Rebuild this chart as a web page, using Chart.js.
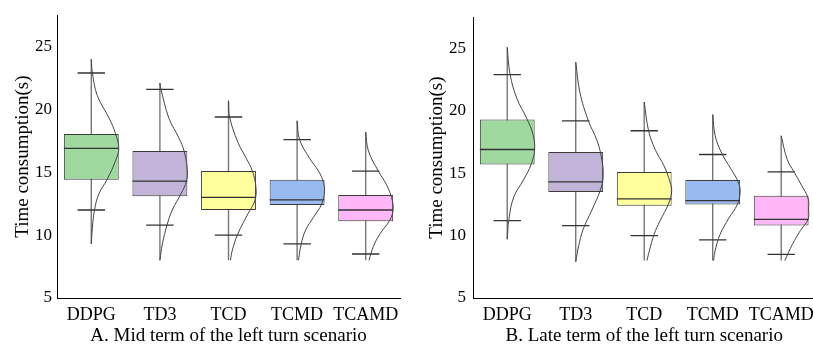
<!DOCTYPE html>
<html>
<head>
<meta charset="utf-8">
<script src="https://cdn.jsdelivr.net/npm/chart.js@4.4.0/dist/chart.umd.min.js"></script>
<style>
  html, body { margin: 0; padding: 0; background: #fff; overflow: hidden; }
  #wrap { position: relative; width: 813px; height: 347px; overflow: hidden; }
  canvas { position: absolute; top: 0; }
  #midChart { left: 0; }
  #lateChart { left: 410px; }
</style>
</head>
<body>
<div id="wrap">
  <canvas id="midChart" width="410" height="347"></canvas>
  <canvas id="lateChart" width="410" height="347"></canvas>
</div>
<script>
// categories and tick labels
const categories = ['DDPG', 'TD3', 'TCD', 'TCMD', 'TCAMD'];
const yTicks = [5, 10, 15, 20, 25];
const boxColors = ['#a0d9a0', '#c2b3d8', '#ffff9e', '#98baf0', '#ffb7f8'];

// A. mid term – box statistics (s)
const midLow    = [12.0, 10.8, 10.0, 9.3, 8.5];
const midQ1     = [14.4, 13.1, 12.0, 12.4, 11.1];
const midMedian = [16.9, 14.3, 13.0, 12.8, 12.0];
const midQ3     = [18.05, 16.7, 15.1, 14.4, 13.2];
const midHigh   = [22.9, 21.6, 19.4, 17.6, 15.1];
// A. mid term – density outline: time levels and relative density (1 = widest)
const midDensityY = [
  [24.0, 22.9, 21.1, 19.3, 18.1, 16.9, 15.9, 14.45, 13.3, 12.05, 10.6, 9.3],
  [22.1, 21.6, 19.3, 17.7, 16.7, 15.2, 14.3, 13.3, 12.0, 10.8, 9.3, 8.0],
  [20.7, 19.4, 17.4, 16.1, 15.1, 13.8, 12.75, 11.7, 10.1, 8.8, 8.0],
  [19.1, 17.6, 16.1, 15.1, 14.2, 13.5, 12.5, 11.4, 10.4, 9.3, 8.0],
  [18.2, 16.7, 15.1, 14.0, 13.0, 12.05, 11.2, 10.1, 9.1, 8.0]
];
const midDensityW = [
  [0, 0.04, 0.22, 0.65, 0.88, 1.0, 0.88, 0.58, 0.28, 0.12, 0.04, 0],
  [0, 0.04, 0.33, 0.70, 0.88, 1.0, 0.97, 0.77, 0.45, 0.26, 0.09, 0],
  [0, 0.04, 0.34, 0.65, 0.87, 1.0, 0.96, 0.71, 0.34, 0.14, 0.07],
  [0, 0.09, 0.46, 0.78, 0.96, 1.0, 0.90, 0.59, 0.31, 0.15, 0.05],
  [0, 0.10, 0.46, 0.76, 0.94, 1.0, 0.88, 0.52, 0.28, 0.12]
];

// B. late term – box statistics (s)
const lateLow    = [11.2, 10.8, 10.0, 9.65, 8.5];
const lateQ1     = [15.7, 13.5, 12.4, 12.5, 10.8];
const lateMedian = [16.9, 14.3, 12.95, 12.8, 11.3];
const lateQ3     = [19.3, 16.7, 15.1, 14.45, 13.2];
const lateHigh   = [22.9, 19.2, 18.4, 16.5, 15.1];
const lateDensityY = [
  [25.1, 22.97, 21.0, 19.4, 18.1, 16.9, 15.75, 14.45, 13.1, 11.3, 9.7],
  [23.9, 21.5, 19.2, 17.6, 16.0, 14.7, 13.65, 12.05, 10.5, 9.2, 7.9],
  [20.7, 18.4, 16.9, 15.6, 14.3, 13.5, 12.5, 11.2, 10.1, 8.8, 8.0],
  [19.7, 18.0, 16.55, 15.4, 14.3, 13.5, 12.5, 11.4, 10.1, 8.8, 8.0],
  [18.0, 16.1, 15.1, 14.0, 13.0, 12.05, 11.3, 10.4, 9.3, 8.0]
];
const lateDensityW = [
  [0, 0.10, 0.35, 0.71, 0.94, 1.0, 0.88, 0.59, 0.24, 0.06, 0],
  [0, 0.15, 0.46, 0.78, 0.96, 1.0, 0.90, 0.59, 0.27, 0.11, 0],
  [0, 0.16, 0.40, 0.72, 0.94, 1.0, 0.88, 0.58, 0.36, 0.19, 0.10],
  [0, 0.09, 0.34, 0.65, 0.93, 1.0, 0.90, 0.59, 0.27, 0.09, 0.03],
  [0, 0.22, 0.47, 0.75, 0.98, 1.0, 0.98, 0.70, 0.41, 0.13]
];

const FONT = '"Liberation Serif", "Times New Roman", serif';
const BOX_HALF = 0.4;    // half box width, in category units
const CAP_HALF = 0.2;    // half whisker cap width
const VIOLIN_MAX = 0.4;  // widest density offset

// joins several short polylines into one dataset, separated by gaps
function joinSegments(segments) {
    const out = [];
    segments.forEach((seg, k) => {
        if (k > 0) out.push({ x: seg[0].x, y: null });
        out.push(...seg);
    });
    return out;
}

function buildChart(canvasId, d, layout) {
    const stems = joinSegments(categories.map((c, i) => [
        { x: i, y: Math.min(...d.densY[i]) },
        { x: i, y: Math.max(...d.densY[i]) }
    ]));
    const caps = joinSegments(categories.flatMap((c, i) => [
        [{ x: i - CAP_HALF, y: d.high[i] }, { x: i + CAP_HALF, y: d.high[i] }],
        [{ x: i - CAP_HALF, y: d.low[i] }, { x: i + CAP_HALF, y: d.low[i] }]
    ]));
    const medians = joinSegments(categories.map((c, i) => [
        { x: i - BOX_HALF, y: d.median[i] }, { x: i + BOX_HALF, y: d.median[i] }
    ]));
    const violins = joinSegments(categories.map((c, i) =>
        d.densY[i].map((y, k) => ({ x: i + VIOLIN_MAX * d.densW[i][k], y: y }))
    ));
    const boxes = categories.map((c, i) => ({ x: i, y: [d.q1[i], d.q3[i]] }));

    const lineBase = { type: 'line', pointRadius: 0, fill: false, spanGaps: false, tension: 0 };

    return new Chart(document.getElementById(canvasId).getContext('2d'), {
        type: 'line',
        data: {
            datasets: [
                Object.assign({}, lineBase, { data: stems, borderColor: '#777', borderWidth: 1.4, order: 5 }),
                {
                    type: 'bar', data: boxes, order: 4,
                    backgroundColor: boxColors, borderColor: '#3a3a3a', borderWidth: 1,
                    borderSkipped: false, barPercentage: 0.8, categoryPercentage: 1.0
                },
                Object.assign({}, lineBase, { data: medians, borderColor: '#333', borderWidth: 1.3, order: 3 }),
                Object.assign({}, lineBase, { data: caps, borderColor: '#333', borderWidth: 1.3, order: 2 }),
                Object.assign({}, lineBase, { data: violins, borderColor: '#444', borderWidth: 1, tension: 0.4, order: 1 })
            ]
        },
        options: {
            responsive: false,
            animation: false,
            events: [],
            layout: { padding: { left: 0, top: 12, right: layout.right, bottom: 0 } },
            plugins: { legend: { display: false }, tooltip: { enabled: false } },
            scales: {
                x: {
                    type: 'linear', min: -0.5, max: 4.5, offset: false,
                    grid: { display: false, drawTicks: false },
                    border: { display: true, color: '#000', width: 1 },
                    afterBuildTicks: s => { s.ticks = categories.map((c, i) => ({ value: i })); },
                    afterFit: s => { s.height = 49; },
                    ticks: {
                        autoSkip: false, maxRotation: 0, padding: 6, color: '#000',
                        font: { family: FONT, size: 18 },
                        callback: v => categories[v]
                    },
                    title: {
                        display: true, text: layout.caption, color: '#000',
                        padding: { top: 0, bottom: 0 },
                        font: { family: FONT, size: 19 }
                    }
                },
                y: {
                    min: 5, max: 27.5,
                    grid: { display: false, drawTicks: false },
                    border: { display: true, color: '#000', width: 1 },
                    afterBuildTicks: s => { s.ticks = yTicks.map(v => ({ value: v })); },
                    afterFit: s => { s.width = layout.axisWidth; },
                    ticks: { padding: layout.tickPad, color: '#000', font: { family: FONT, size: 17 } },
                    title: {
                        display: true, text: 'Time consumption(s)', color: '#000',
                        padding: { top: layout.titlePad, bottom: 0 },
                        font: { family: FONT, size: 19 }
                    }
                }
            }
        }
    });
}

buildChart('midChart', {
    low: midLow, q1: midQ1, median: midMedian, q3: midQ3, high: midHigh,
    densY: midDensityY, densW: midDensityW
}, { right: 10, axisWidth: 57, tickPad: 5, titlePad: 12, caption: 'A. Mid term of the left turn scenario' });

buildChart('lateChart', {
    low: lateLow, q1: lateQ1, median: lateMedian, q3: lateQ3, high: lateHigh,
    densY: lateDensityY, densW: lateDensityW
}, { right: 3, axisWidth: 63, tickPad: 7, titlePad: 16, caption: 'B. Late term of the left turn scenario' });
</script>
</body>
</html>
